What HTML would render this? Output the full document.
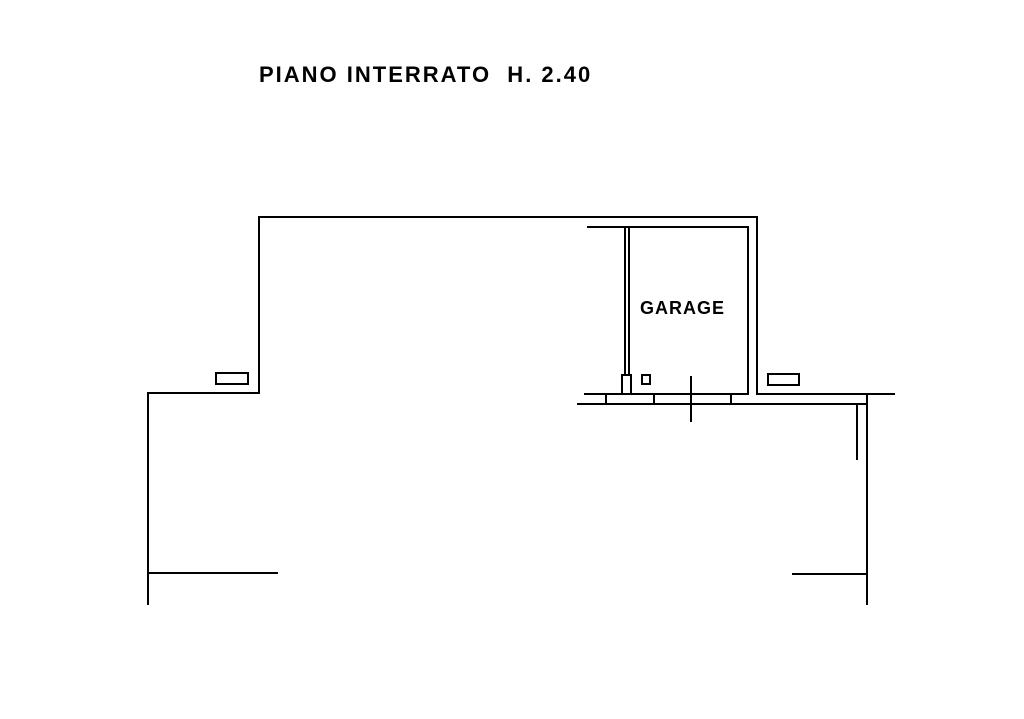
<!DOCTYPE html>
<html><head><style>body{margin:0;background:#fff}svg{display:block}</style></head><body>
<svg width="1024" height="719" viewBox="0 0 1024 719" xmlns="http://www.w3.org/2000/svg">
<rect width="1024" height="719" fill="#fff"/>
<g stroke="#000" stroke-width="2" fill="none">
<polyline points="148,605 148,393 259,393 259,217 757,217 757,394 895,394"/>
<polyline points="587,227 748,227 748,394 584,394"/>
<line x1="625" y1="227" x2="625" y2="375"/>
<line x1="629" y1="227" x2="629" y2="375"/>
<polyline points="622,394 622,375 631,375 631,394"/>
<rect x="642" y="375" width="8" height="9"/>
<line x1="577" y1="404" x2="867" y2="404"/>
<line x1="606" y1="394" x2="606" y2="404"/>
<line x1="654" y1="394" x2="654" y2="404"/>
<line x1="731" y1="394" x2="731" y2="404"/>
<line x1="691" y1="376" x2="691" y2="422"/>
<line x1="867" y1="394" x2="867" y2="605"/>
<line x1="857" y1="404" x2="857" y2="460"/>
<rect x="216" y="373" width="32" height="11"/>
<rect x="768" y="374" width="31" height="11"/>
<line x1="148" y1="573" x2="278" y2="573"/>
<line x1="792" y1="574" x2="867" y2="574"/>
</g>
<text x="259" y="82" font-family="Liberation Sans, sans-serif" font-size="22" font-weight="bold" letter-spacing="2">PIANO INTERRATO&#160;&#160;H. 2.40</text>
<text x="640" y="314" font-family="Liberation Sans, sans-serif" font-size="18" font-weight="bold" letter-spacing="1">GARAGE</text>
</svg>
</body></html>
